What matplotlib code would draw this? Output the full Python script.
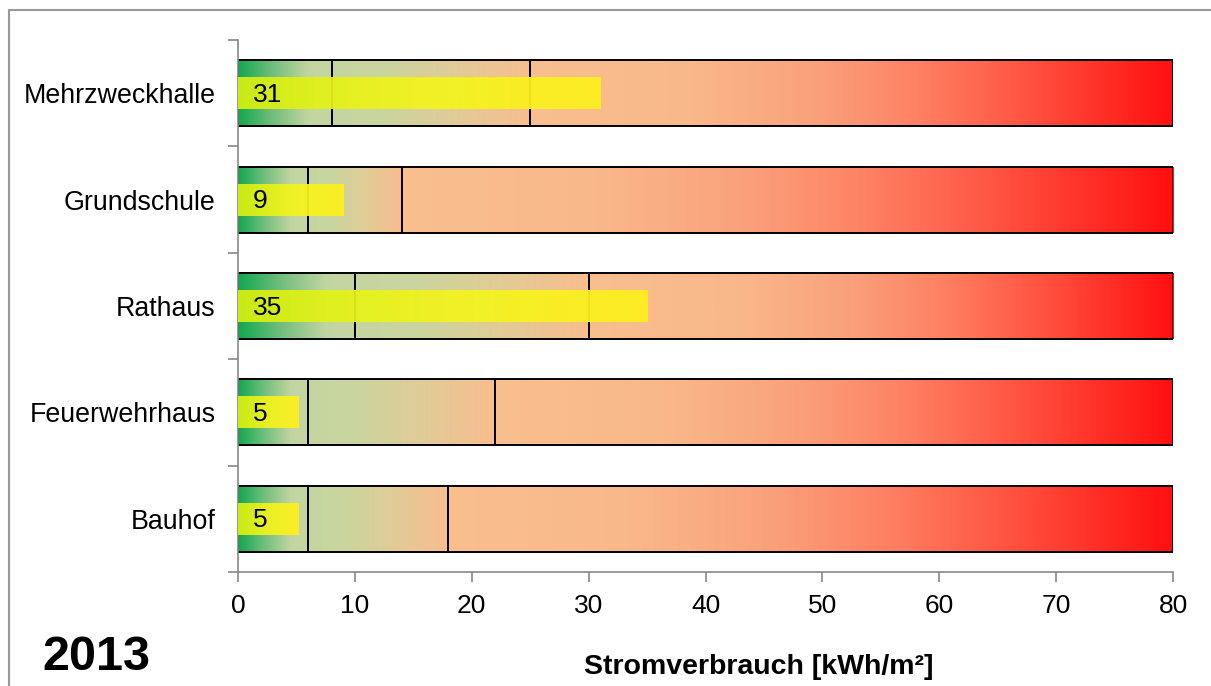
import numpy as np
import matplotlib
matplotlib.use("Agg")
import matplotlib.pyplot as plt
from matplotlib.colors import LinearSegmentedColormap
from matplotlib.patches import Rectangle

plt.rcParams['font.family'] = ['Liberation Sans', 'DejaVu Sans']

# ---- data ----
categories = ["Mehrzweckhalle", "Grundschule", "Rathaus", "Feuerwehrhaus", "Bauhof"]
good_limit = [8, 6, 10, 6, 6]        # end of green zone
mid_limit = [25, 14, 30, 22, 18]     # end of transition zone
scale_max = [80, 80, 80, 80, 80]     # end of red zone
values = [31, 9, 35, 5.2, 5.2]
value_labels = ["31", "9", "35", "5", "5"]
xticks = [0, 10, 20, 30, 40, 50, 60, 70, 80]
year_label = "2013"
x_label = "Stromverbrauch [kWh/m²]"

# ---- colormaps ----
cm_green = LinearSegmentedColormap.from_list(
    "g", [(0, "#10a84e"), (0.35, "#6dbd7c"), (0.75, "#c2d5a0"), (1, "#c6d6a2")])
cm_mid = LinearSegmentedColormap.from_list(
    "m", [(0, "#c5d6a0"), (0.25, "#cad59e"), (0.6, "#e0cc98"), (1, "#f9bd8e")])
cm_red = LinearSegmentedColormap.from_list(
    "r", [(0, "#f9bf8e"), (0.25, "#f9b88a"), (0.45, "#faa07a"), (0.6, "#fe8264"),
          (0.75, "#ff5a46"), (1, "#ff1010")])
cm_yel = LinearSegmentedColormap.from_list(
    "y", [(0, "#d6ef12"), (0.5, "#f2f41e"), (1, "#fff01e")])

W, H = 1211, 686
fig = plt.figure(figsize=(W / 100, H / 100), dpi=100)
ax = fig.add_axes([238 / W, 1 - 572 / H, (1173 - 238) / W, (572 - 40) / H])

grad = np.linspace(0, 1, 256).reshape(1, -1)
n = len(categories)
ypos = np.arange(n)[::-1]
bh = 0.62
yh = 0.30

for i, cat in enumerate(categories):
    y = ypos[i]
    segs = [(0, good_limit[i], cm_green), (good_limit[i], mid_limit[i], cm_mid),
            (mid_limit[i], scale_max[i], cm_red)]
    for x0, x1, cm in segs:
        ax.imshow(grad, cmap=cm, extent=[x0, x1, y - bh / 2, y + bh / 2],
                  aspect='auto', interpolation='bilinear', zorder=1)
        ax.add_patch(Rectangle((x0, y - bh / 2), x1 - x0, bh, fill=False,
                               edgecolor='black', linewidth=1.4, zorder=2))
    ax.imshow(grad, cmap=cm_yel, extent=[0, values[i], y - yh / 2, y + yh / 2],
              aspect='auto', interpolation='bilinear', alpha=0.94, zorder=3)
    ax.text(1.3, y - 0.015, value_labels[i], ha='left', va='center', fontsize=19,
            color='black', zorder=4)

ax.set_xlim(0, 80)
ax.set_ylim(-0.5, n - 0.5)
ax.set_xticks(xticks)
ax.set_xticklabels([str(t) for t in xticks], fontsize=19)
ax.set_yticks(ypos)
ax.set_yticklabels(categories, fontsize=19.3)
ax.tick_params(axis='y', which='major', length=0, pad=16)
ax.set_yticks(np.arange(-0.5, n, 1.0), minor=True)
ax.tick_params(axis='y', which='minor', length=7, color='#888888', width=1.2)
ax.tick_params(axis='x', length=7, color='#888888', width=1.2, pad=9)

for s in ['top', 'right']:
    ax.spines[s].set_visible(False)
for s in ['left', 'bottom']:
    ax.spines[s].set_color('#888888')
    ax.spines[s].set_linewidth(1.2)

fig.text(42 / W, 1 - 658 / H, year_label, fontsize=35, fontweight='bold',
         ha='left', va='center')
fig.text(759 / W, 1 - 667 / H, x_label, fontsize=20.5, fontweight='bold',
         ha='center', va='center')

# outer border
fig.add_artist(Rectangle((8.5 / W, -0.1), 1.2, 1.1 - 9.5 / H, transform=fig.transFigure,
                         fill=False, edgecolor='#999999', linewidth=1.5))

fig.savefig("out.png", dpi=100)
